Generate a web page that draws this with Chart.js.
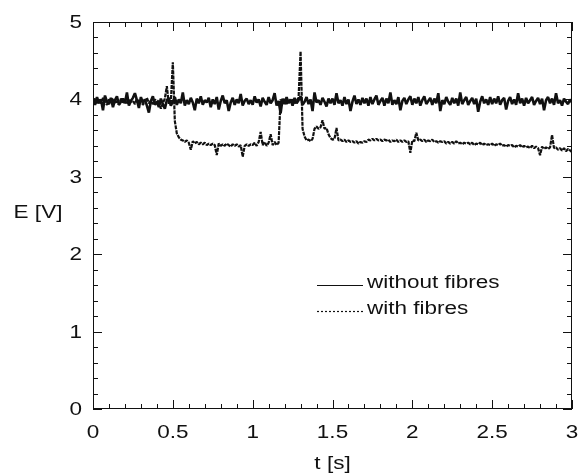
<!DOCTYPE html>
<html>
<head>
<meta charset="utf-8">
<script src="https://cdn.jsdelivr.net/npm/chart.js@4/dist/chart.umd.min.js"></script>
<style>
  html, body { margin: 0; padding: 0; background: #fff; }
  #wrap { width: 580px; height: 476px; }
</style>
</head>
<body>
<div id="wrap"><canvas id="grafico" width="580" height="476"></canvas></div>
<script>
// sampling step of the recorded signals [s]
const dt = 0.0125;

// E [V] without fibres
const sinFibras = [
  3.99,3.93,4.03,3.95,4.00,3.86,4.05,3.97,3.94,4.02,3.90,3.99,4.04,3.93,3.97,4.01,3.95,4.09,3.92,3.98,
  4.02,4.08,3.99,3.89,4.03,3.96,4.00,3.92,3.83,3.98,4.04,3.93,3.97,3.90,4.01,3.94,3.88,3.99,4.02,3.92,
  3.97,4.03,3.93,4.00,3.95,4.09,3.92,3.99,3.94,4.02,3.96,3.86,4.01,3.95,4.04,3.93,3.99,3.96,4.02,3.90,
  4.00,3.94,4.03,3.87,3.98,4.05,3.95,3.99,3.85,3.96,4.02,3.93,4.00,3.95,4.07,3.92,3.98,4.01,3.94,3.99,
  3.93,4.04,3.96,4.00,3.91,4.02,3.97,3.93,4.03,3.95,3.99,4.08,3.92,3.98,3.82,4.01,3.94,4.03,3.95,4.00,
  3.92,4.02,3.95,3.99,4.04,3.93,3.97,4.03,3.94,4.00,3.85,4.09,3.96,3.99,3.93,4.02,3.97,3.91,4.01,3.95,
  4.01,3.93,4.08,3.95,3.99,3.92,4.03,3.94,4.00,3.85,3.97,4.05,3.94,4.00,3.93,4.02,3.95,4.01,3.92,4.03,
  3.94,4.00,4.05,3.93,3.98,4.02,3.92,4.01,3.95,4.09,3.93,3.99,3.94,4.03,3.86,3.98,4.02,3.94,4.00,4.04,
  3.93,4.01,3.95,4.03,3.92,3.99,4.04,3.94,3.98,4.02,3.93,4.01,3.95,4.08,3.85,3.99,3.94,4.03,3.97,3.93,
  4.02,3.95,4.01,3.92,4.09,3.94,3.99,4.03,3.93,3.98,4.02,3.94,4.01,3.84,3.97,4.04,3.95,4.00,3.93,4.03,
  3.94,4.01,3.95,4.04,3.93,3.99,4.02,3.87,3.98,4.03,3.94,4.00,3.93,4.08,3.95,4.01,3.92,4.02,3.95,3.99,
  4.03,3.93,3.98,4.02,3.94,4.01,3.86,3.99,4.03,3.95,4.01,3.93,4.08,3.95,3.99,3.92,4.01,3.97,3.94,4.00,
  3.96
];

// E [V] with fibres
const conFibras = [
  3.97,4.01,3.94,3.99,3.95,4.02,3.96,3.93,4.00,3.97,4.01,3.95,3.98,3.93,4.01,3.96,3.99,3.94,4.00,3.97,
  3.98,3.94,4.01,3.96,3.99,3.93,3.97,4.02,3.95,3.98,3.94,4.00,3.96,3.99,3.88,3.95,4.01,4.17,3.94,3.97,
  4.48,3.72,3.56,3.51,3.48,3.47,3.45,3.47,3.44,3.35,3.46,3.43,3.45,3.42,3.44,3.42,3.44,3.41,3.43,3.41,
  3.43,3.41,3.28,3.43,3.40,3.42,3.40,3.43,3.41,3.39,3.42,3.40,3.42,3.39,3.41,3.26,3.40,3.42,3.40,3.42,
  3.41,3.44,3.40,3.45,3.58,3.41,3.45,3.40,3.44,3.55,3.41,3.45,3.41,3.44,4.00,3.95,4.01,3.94,3.99,3.96,
  4.00,3.95,3.98,4.02,4.62,3.62,3.52,3.47,3.48,3.46,3.49,3.62,3.65,3.62,3.64,3.73,3.62,3.63,3.55,3.50,
  3.48,3.49,3.63,3.47,3.48,3.46,3.48,3.45,3.47,3.45,3.46,3.44,3.46,3.43,3.45,3.44,3.46,3.45,3.48,3.47,
  3.49,3.47,3.49,3.47,3.48,3.46,3.48,3.47,3.48,3.45,3.47,3.46,3.48,3.45,3.47,3.45,3.47,3.45,3.46,3.31,
  3.47,3.46,3.57,3.47,3.48,3.46,3.48,3.45,3.47,3.46,3.48,3.45,3.46,3.44,3.46,3.45,3.46,3.43,3.45,3.43,
  3.45,3.43,3.46,3.43,3.44,3.42,3.44,3.43,3.44,3.42,3.44,3.41,3.43,3.42,3.44,3.41,3.43,3.41,3.42,3.41,
  3.43,3.40,3.42,3.41,3.43,3.40,3.41,3.39,3.41,3.40,3.41,3.38,3.40,3.39,3.41,3.38,3.40,3.38,3.39,3.37,
  3.40,3.37,3.39,3.37,3.28,3.39,3.36,3.38,3.36,3.38,3.54,3.37,3.38,3.35,3.37,3.34,3.37,3.33,3.36,3.34,
  3.32
];

const seriesLabels = ['without fibres', 'with fibres'];
const xTicks = [0, 0.5, 1, 1.5, 2, 2.5, 3];
const xTickLabels = ['0', '0.5', '1', '1.5', '2', '2.5', '3'];
const yTicks = [0, 1, 2, 3, 4, 5];
const yTickLabels = ['0', '1', '2', '3', '4', '5'];

const FONT = '"Liberation Sans", Arial, Helvetica, sans-serif';
const ink = '#111';
const STRETCH = 1.25; // the printed lettering is wide

const toPoints = arr => arr.map((v, i) => ({ x: i * dt, y: v }));

function texto(ctx, str, x, y, align) {
  ctx.save();
  ctx.translate(x, y);
  ctx.scale(STRETCH, 1);
  ctx.textAlign = align;
  ctx.fillText(str, 0, 0);
  ctx.restore();
}

// frame, inward ticks, labels and legend
const decoraciones = {
  id: 'decoraciones',
  afterDraw(chart) {
    const { ctx, chartArea: a, scales: { x, y } } = chart;
    ctx.save();
    ctx.strokeStyle = ink;
    ctx.lineWidth = 1;
    ctx.strokeRect(a.left + 0.5, a.top + 0.5, a.right - a.left - 1, a.bottom - a.top - 1);
    ctx.beginPath();
    for (let i = 0; i <= 30; i++) {
      const px = Math.round(x.getPixelForValue(i / 10)) + 0.5;
      const len = i % 5 === 0 ? 9 : 5;
      ctx.moveTo(px, a.bottom); ctx.lineTo(px, a.bottom - len);
      ctx.moveTo(px, a.top); ctx.lineTo(px, a.top + len);
    }
    for (let i = 0; i <= 25; i++) {
      const py = Math.round(y.getPixelForValue(i / 5)) + 0.5;
      const len = i % 5 === 0 ? 9 : 5;
      ctx.moveTo(a.left, py); ctx.lineTo(a.left + len, py);
      ctx.moveTo(a.right, py); ctx.lineTo(a.right - len, py);
    }
    ctx.stroke();

    ctx.fillStyle = ink;
    ctx.font = '18px ' + FONT;
    ctx.textBaseline = 'middle';
    xTicks.forEach((v, i) => texto(ctx, xTickLabels[i], x.getPixelForValue(v), a.bottom + 24, 'center'));
    yTicks.forEach((v, i) => texto(ctx, yTickLabels[i], a.left - 11, y.getPixelForValue(v) + 1, 'right'));
    texto(ctx, 't [s]', (a.left + a.right) / 2, 464, 'center');
    texto(ctx, 'E [V]', 38, 213, 'center');

    // legend
    const rows = [{ y: 285, dash: [] }, { y: 311, dash: [2, 2] }];
    rows.forEach((r, k) => {
      ctx.beginPath();
      ctx.setLineDash(r.dash);
      ctx.lineWidth = 1.2;
      ctx.moveTo(317, r.y + 0.5); ctx.lineTo(363, r.y + 0.5);
      ctx.stroke();
      ctx.setLineDash([]);
      texto(ctx, seriesLabels[k], 367, r.y - 2, 'left');
    });
    ctx.restore();
  }
};

new Chart(document.getElementById('grafico').getContext('2d'), {
  type: 'line',
  data: {
    datasets: [{
      label: seriesLabels[0],
      data: toPoints(sinFibras),
      borderColor: ink,
      borderWidth: 2.6,
      borderJoinStyle: 'bevel',
      pointRadius: 0,
      tension: 0
    }, {
      label: seriesLabels[1],
      data: toPoints(conFibras),
      borderColor: ink,
      borderWidth: 2.2,
      borderJoinStyle: 'bevel',
      borderDash: [4, 1],
      pointRadius: 0,
      tension: 0
    }]
  },
  options: {
    responsive: false,
    animation: false,
    events: [],
    layout: { padding: { left: 0, right: 8, top: 22, bottom: 0 } },
    plugins: { legend: { display: false }, tooltip: { enabled: false } },
    scales: {
      x: {
        type: 'linear', min: 0, max: 3,
        afterBuildTicks: s => { s.ticks = xTicks.map(v => ({ value: v })); },
        afterFit: s => { s.height = 67; },
        grid: { display: false, drawTicks: false },
        border: { display: false },
        ticks: { display: false }
      },
      y: {
        min: 0, max: 5,
        afterBuildTicks: s => { s.ticks = yTicks.map(v => ({ value: v })); },
        afterFit: s => { s.width = 93; },
        grid: { display: false, drawTicks: false },
        border: { display: false },
        ticks: { display: false }
      }
    }
  },
  plugins: [decoraciones]
});
</script>
</body>
</html>
